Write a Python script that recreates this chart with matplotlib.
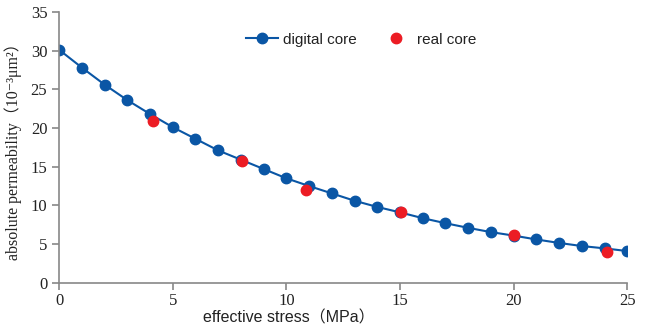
import matplotlib
matplotlib.use("Agg")
from matplotlib import pyplot as plt

# Data
stress_digital = [0, 1, 2, 3, 4, 5, 6, 7, 8, 9, 10, 11, 12, 13, 14, 15, 16, 17, 18, 19, 20, 21, 22, 23, 24, 25]
perm_digital = [30.1, 27.8, 25.6, 23.6, 21.8, 20.1, 18.6, 17.1, 15.9, 14.7, 13.5, 12.5, 11.55, 10.6, 9.8, 9.1,
                8.35, 7.7, 7.1, 6.55, 6.1, 5.6, 5.15, 4.75, 4.45, 4.1]
stress_real = [4.15, 8.05, 10.85, 15.05, 20.0, 24.1]
perm_real = [20.95, 15.8, 12.0, 9.1, 6.15, 4.0]

x_ticks = [0, 5, 10, 15, 20, 25]
y_ticks = [0, 5, 10, 15, 20, 25, 30, 35]

blue = '#0A56A5'
red = '#EC1C24'
grey = '#888888'

fig = plt.figure(figsize=(6.5, 3.3), dpi=100)
ax = fig.add_axes([0.091, 0.143, 0.874, 0.821])

ax.plot(stress_digital, perm_digital, color=blue, lw=1.5, marker='o', ms=7.5,
        label='digital core', zorder=2)
ax.plot(stress_real, perm_real, ls='none', color=red, marker='o', ms=7.5,
        label='real core', zorder=3)

ax.set_xlim(0, 25)
ax.set_ylim(0, 35)
ax.set_xticks(x_ticks)
ax.set_yticks(y_ticks)

for s in ['top', 'right']:
    ax.spines[s].set_visible(False)
for s in ['left', 'bottom']:
    ax.spines[s].set_color(grey)
    ax.spines[s].set_linewidth(1.2)
ax.tick_params(axis='both', direction='out', color=grey, width=1.2, length=5,
               labelsize=12, labelcolor='#222222')
ax.tick_params(axis='x', pad=2)
for lab in ax.get_xticklabels() + ax.get_yticklabels():
    lab.set_family('Liberation Serif')

ax.set_xlabel('effective stress（MPa）', fontsize=11.5, color='#222222',
              family=['Liberation Sans', 'Noto Sans CJK SC', 'DejaVu Sans'])
ax.xaxis.set_label_coords(0.405, -0.103)
ax.set_ylabel('absolute permeability（10⁻³μm²）', fontsize=11.5, color='#222222',
              family=['Liberation Serif', 'Noto Sans CJK SC', 'DejaVu Sans'], labelpad=6)

leg = ax.legend(loc='center', bbox_to_anchor=(0.532, 0.897), ncol=2, frameon=False,
                prop={'family': 'Liberation Sans', 'size': 11}, handlelength=2.1,
                columnspacing=1.5, handletextpad=0.35, borderpad=0)
for t in leg.get_texts():
    t.set_color('#222222')

fig.savefig('out.png', dpi=100)
